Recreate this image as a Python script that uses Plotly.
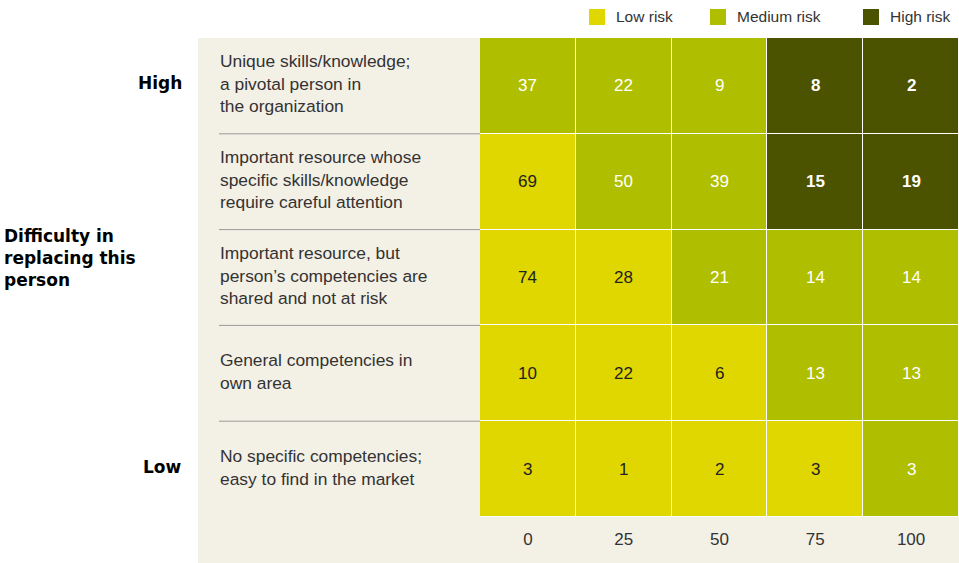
import plotly.graph_objects as go

# ---------------- data ----------------
columns = ["0", "25", "50", "75", "100"]
row_labels = [
    "Unique skills/knowledge;<br>a pivotal person in<br>the organization",
    "Important resource whose<br>specific skills/knowledge<br>require careful attention",
    "Important resource, but<br>person’s competencies are<br>shared and not at risk",
    "General competencies in<br>own area",
    "No specific competencies;<br>easy to find in the market",
]
values = [
    [37, 22, 9, 8, 2],
    [69, 50, 39, 15, 19],
    [74, 28, 21, 14, 14],
    [10, 22, 6, 13, 13],
    [3, 1, 2, 3, 3],
]
# 0 = low risk, 1 = medium risk, 2 = high risk
risk = [
    [1, 1, 1, 2, 2],
    [0, 1, 1, 2, 2],
    [0, 0, 1, 1, 1],
    [0, 0, 0, 1, 1],
    [0, 0, 0, 0, 1],
]
risk_names = ["Low risk", "Medium risk", "High risk"]
risk_colors = ["#e0d600", "#afbf00", "#4b5300"]
axis_title = "Difficulty in<br>replacing this<br>person"
axis_ends = ["High", "Low"]

# ---------------- layout constants ----------------
W, H = 959, 563
BEIGE = "#f3f0e6"
FONT = "Liberation Sans, Arial, sans-serif"
BOLDFONT = "DejaVu Sans, sans-serif"


def px(x):
    return x / W


def py(y):
    return 1 - y / H


grid_left, grid_top, grid_bottom = 480, 38, 517

colorscale = [
    [0.0, risk_colors[0]], [1 / 3, risk_colors[0]],
    [1 / 3, risk_colors[1]], [2 / 3, risk_colors[1]],
    [2 / 3, risk_colors[2]], [1.0, risk_colors[2]],
]

fig = go.Figure()
fig.add_trace(go.Heatmap(
    z=risk,
    x=list(range(len(columns))),
    y=list(range(len(row_labels))),
    zmin=-0.5, zmax=2.5,
    colorscale=colorscale,
    showscale=False,
    xgap=1, ygap=1,
    hoverinfo="skip",
))

annotations = []
# cell values
for r, row in enumerate(values):
    for c, v in enumerate(row):
        lvl = risk[r][c]
        annotations.append(dict(
            x=c, y=r, xref="x", yref="y", text=str(v), showarrow=False,
            font=dict(family=FONT, size=17,
                      color="#222222" if lvl == 0 else "#ffffff",
                      weight="bold" if lvl == 2 else "normal"),
        ))

# row labels
for r, lab in enumerate(row_labels):
    annotations.append(dict(
        x=px(217.5), xref="paper", xanchor="left", y=r, yref="y", yshift=2,
        text=lab, align="left", showarrow=False,
        font=dict(family=FONT, size=17.4, color="#333333"),
    ))

# High / Low labels
bold_font = dict(family=BOLDFONT, size=17, color="#000", weight="bold")
annotations.append(dict(x=px(184), xref="paper", xanchor="right", y=0, yref="y", yshift=3,
                        text=axis_ends[0], showarrow=False, font=bold_font))
annotations.append(dict(x=px(184), xref="paper", xanchor="right", y=len(row_labels) - 1,
                        yref="y", yshift=2,
                        text=axis_ends[1], showarrow=False, font=bold_font))
annotations.append(dict(x=px(2), xref="paper", xanchor="left", y=py(257.5), yref="paper",
                        yanchor="middle", text=axis_title, align="left", showarrow=False,
                        font=bold_font))

# legend
legend_sq_x = [589, 710, 863]
shapes = []
for i, name in enumerate(risk_names):
    x0 = legend_sq_x[i]
    shapes.append(dict(type="rect", xref="paper", yref="paper",
                       x0=px(x0), x1=px(x0 + 16), y0=py(25), y1=py(9),
                       fillcolor=risk_colors[i], line=dict(width=0)))
    annotations.append(dict(x=px(x0 + 25), xref="paper", xanchor="left",
                            y=py(17), yref="paper", yanchor="middle",
                            text=name, showarrow=False,
                            font=dict(family=FONT, size=15.5, color="#333333")))

# beige panels
shapes.append(dict(type="rect", xref="paper", yref="paper", layer="below",
                   x0=px(198), x1=px(grid_left), y0=0, y1=py(grid_top),
                   fillcolor=BEIGE, line=dict(width=0)))
shapes.append(dict(type="rect", xref="paper", yref="paper", layer="below",
                   x0=px(grid_left), x1=1, y0=0, y1=py(grid_bottom),
                   fillcolor=BEIGE, line=dict(width=0)))
# row separators in left panel
for r in range(len(row_labels) - 1):
    shapes.append(dict(type="line", xref="paper", yref="y",
                       x0=px(219), x1=px(grid_left), y0=r + 0.5, y1=r + 0.5,
                       line=dict(color="#9a9a9a", width=1)))

fig.update_layout(
    width=W, height=H,
    margin=dict(l=0, r=0, t=0, b=0),
    paper_bgcolor="white",
    plot_bgcolor="white",
    showlegend=False,
    annotations=annotations,
    shapes=shapes,
    xaxis=dict(domain=[px(grid_left), 1], range=[-0.5, len(columns) - 0.5],
               tickmode="array", tickvals=list(range(len(columns))), ticktext=columns,
               showgrid=False, zeroline=False, showline=False, ticks="",
               tickfont=dict(family=FONT, size=17, color="#333333"),
               ticklabelstandoff=10, fixedrange=True),
    yaxis=dict(domain=[py(grid_bottom), py(grid_top)], range=[len(row_labels) - 0.5, -0.5],
               showticklabels=False, showgrid=False, zeroline=False, showline=False,
               ticks="", fixedrange=True),
)

fig.write_html("out.html")
